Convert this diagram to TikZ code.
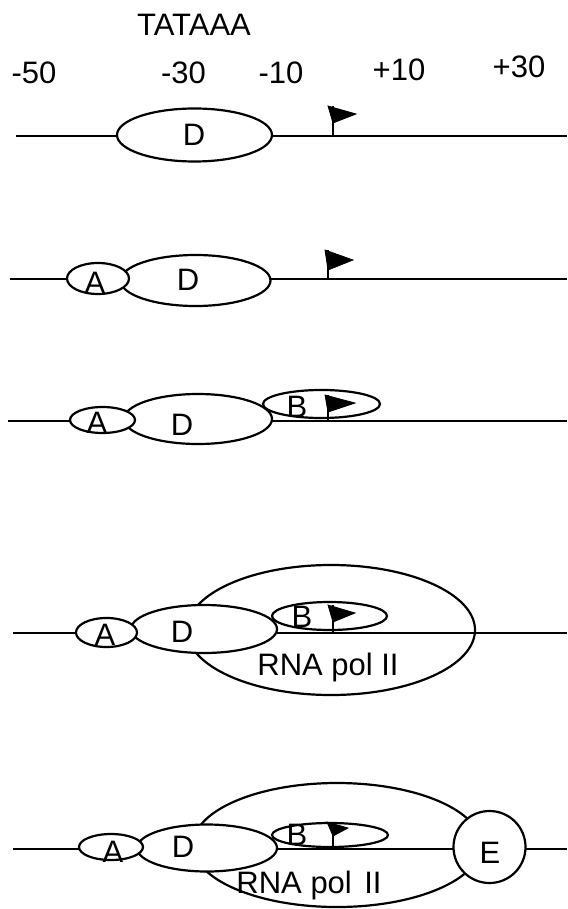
\documentclass[tikz,border=0pt]{standalone}
\usepackage{fontspec}
\setmainfont{Liberation Sans}
\usetikzlibrary{shapes.geometric}
\begin{document}
\begin{tikzpicture}[x=1pt,y=-1pt,
  dna/.style={line width=2.6pt},
  prot/.style={draw,ellipse,line width=2.2pt,inner sep=0pt,outer sep=0pt},
  protfill/.style={prot,fill=white},
  lab/.style={inner sep=0pt,font=\fontsize{31}{33}\selectfont},
  toplab/.style={inner sep=0pt,font=\fontsize{31}{33}\selectfont},
  pole/.style={line width=2.4pt},
  flagtri/.style={fill=black,draw=black,line width=0.8pt,line join=miter}]
\useasboundingbox (0,0) rectangle (567,909);
% header
\node[toplab] (tata) at (194,24.5) {TATAAA};
\node[toplab] (m50) at (34,72.5) {-50};
\node[toplab] (m30) at (183.5,72.5) {-30};
\node[toplab] (m10) at (281,72.5) {-10};
\node[toplab] (p10) at (399,70) {+10};
\node[toplab] (p30) at (519,67) {+30};

% ---------- row 1 ----------
\coordinate (l1s) at (16,136); \coordinate (l1e) at (567,136);
\draw[dna] (l1s) -- (l1e);
\node[protfill,minimum width=155pt,minimum height=53pt] (d1) at (194.5,135) {};
\node[lab] (d1t) at (194,135) {D};
\coordinate (f1b) at (333,137); \coordinate (f1t) at (333,106);
\draw[pole] (f1b) -- (f1t);
\coordinate (f1a) at (328,106); \coordinate (f1c) at (356,114); \coordinate (f1d) at (333,123);
\fill[flagtri] (f1a) -- (f1c) -- (f1d) -- cycle;

% ---------- row 2 ----------
\coordinate (l2s) at (10,279); \coordinate (l2e) at (567,279);
\draw[dna] (l2s) -- (l2e);
\node[protfill,minimum width=150pt,minimum height=51pt] (d2) at (195.5,280.5) {};
\node[protfill,minimum width=62pt,minimum height=31pt] (a2) at (98,278.5) {};
\node[lab] (d2t) at (188,280) {D};
\node[lab] (a2t) at (95,283) {A};
\coordinate (f2b) at (328,280); \coordinate (f2t) at (328,250);
\draw[pole] (f2b) -- (f2t);
\coordinate (f2a) at (325,250); \coordinate (f2c) at (353,260); \coordinate (f2d) at (328,270);
\fill[flagtri] (f2a) -- (f2c) -- (f2d) -- cycle;

% ---------- row 3 ----------
\coordinate (l3s) at (8,421); \coordinate (l3e) at (567,421);
\draw[dna] (l3s) -- (l3e);
\node[prot,minimum width=117pt,minimum height=28pt] (b3) at (321.5,404) {};
\node[protfill,minimum width=148pt,minimum height=50pt] (d3) at (198,419) {};
\node[protfill,minimum width=65pt,minimum height=26pt] (a3) at (102.5,420) {};
\node[lab] (d3t) at (182,425) {D};
\node[lab] (a3t) at (97,423) {A};
\node[lab] (b3t) at (297,407) {B};
\coordinate (f3b) at (328,422); \coordinate (f3t) at (328,395);
\draw[pole] (f3b) -- (f3t);
\coordinate (f3a) at (325,395); \coordinate (f3c) at (355,403); \coordinate (f3d) at (328,412);
\fill[flagtri] (f3a) -- (f3c) -- (f3d) -- cycle;

% ---------- row 4 ----------
\coordinate (l4s) at (13,633); \coordinate (l4e) at (567,633);
\draw[dna] (l4s) -- (l4e);
\node[prot,minimum width=288pt,minimum height=130pt] (pol4) at (331,630) {};
\node[prot,minimum width=115pt,minimum height=28pt] (b4) at (329.5,616) {};
\node[protfill,minimum width=146pt,minimum height=48pt] (d4) at (204,629) {};
\node[protfill,minimum width=61pt,minimum height=29pt] (a4) at (106.5,632.5) {};
\node[lab] (d4t) at (182,632) {D};
\node[lab] (a4t) at (105,635) {A};
\node[lab] (b4t) at (302,617) {B};
\node[lab,anchor=base] (pol4t) at (328,675) {RNA pol II};
\coordinate (f4b) at (333,634); \coordinate (f4t) at (333,605);
\draw[pole] (f4b) -- (f4t);
\coordinate (f4a) at (328,605); \coordinate (f4c) at (355,613); \coordinate (f4d) at (333,622);
\fill[flagtri] (f4a) -- (f4c) -- (f4d) -- cycle;

% ---------- row 5 ----------
\coordinate (l5s) at (13,849); \coordinate (l5e) at (567,849);
\draw[dna] (l5s) -- (l5e);
\node[prot,minimum width=288pt,minimum height=124pt] (pol5) at (337,845) {};
\node[prot,minimum width=116pt,minimum height=24pt] (b5) at (330,835) {};
\node[protfill,minimum width=140pt,minimum height=47pt] (d5) at (207,848) {};
\node[protfill,minimum width=64pt,minimum height=26pt] (a5) at (111,847) {};
\node[protfill,circle,minimum size=72pt] (e5) at (489.5,847) {};
\node[lab] (d5t) at (183,847) {D};
\node[lab] (a5t) at (113,852) {A};
\node[lab] (b5t) at (297,835) {B};
\node[lab] (e5t) at (490,853) {E};
\node[lab,anchor=base] (pol5t) at (309,893) {RNA pol\hspace{0.4em}II};
\coordinate (f5b) at (333,850); \coordinate (f5t) at (333,822);
\draw[pole] (f5b) -- (f5t);
\coordinate (f5a) at (327,822); \coordinate (f5c) at (348,828); \coordinate (f5d) at (333,836);
\fill[flagtri] (f5a) -- (f5c) -- (f5d) -- cycle;
\end{tikzpicture}
\end{document}
